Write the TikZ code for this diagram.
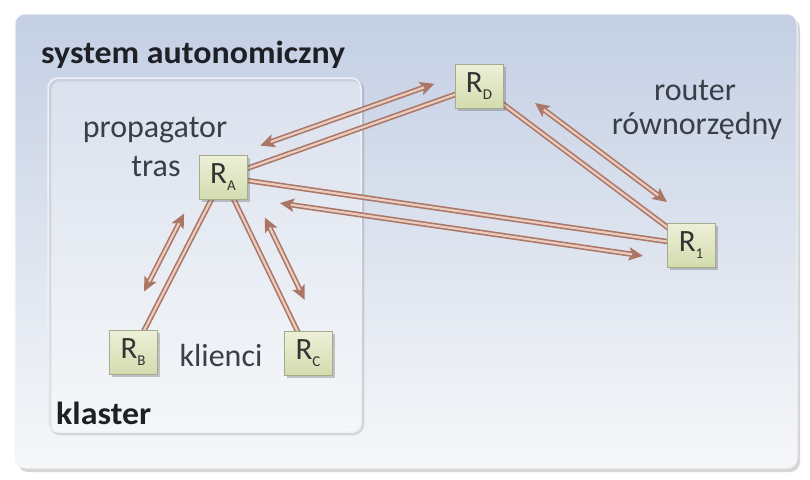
\documentclass[tikz,border=0pt]{standalone}
\usepackage{fontspec}
\setmainfont{Carlito}
\usetikzlibrary{arrows.meta,shadows}
\definecolor{arrdark}{HTML}{AC7666}
\definecolor{arrlight}{HTML}{EACDC1}
\definecolor{nodefill}{HTML}{D3DCAE}
\definecolor{nodetop}{HTML}{EDF0D8}
\definecolor{nodeline}{HTML}{A4AA8E}
\definecolor{bgtop}{HTML}{C4CFE4}
\definecolor{bgmid}{HTML}{DEE4EF}
\definecolor{bgbot}{HTML}{F6F7F9}
\definecolor{txt}{HTML}{3A3E48}
\definecolor{txtbold}{HTML}{1E2026}
\pgfdeclarelayer{back}
\pgfdeclarelayer{edges}
\pgfsetlayers{back,edges,main}
\tikzset{
  rbox/.style={draw=nodeline, line width=1pt, top color=nodetop, bottom color=nodefill,
    minimum width=48pt, minimum height=44pt, inner sep=0pt, text=black!80,
    font=\fontsize{31}{31}\selectfont,
    drop shadow={shadow xshift=2.5pt, shadow yshift=-2.5pt, opacity=0.35, fill=black!60}},
  lbl/.style={text=txt, font=\fontsize{32}{32}\selectfont, inner sep=0pt},
  blbl/.style={text=txtbold, font=\bfseries\fontsize{32}{32}\selectfont, inner sep=0pt,
    xscale=1.06, transform shape},
  darkline/.style={draw=arrdark, line width=5.4pt},
  lightline/.style={draw=arrlight, line width=2.2pt},
  tip/.tip={Stealth[length=14pt,width=13pt,inset=2.5pt]}
}
\newcommand\sub[1]{\raisebox{-0.5ex}{\fontsize{15}{15}\selectfont #1}}
\newcommand\biarr[5]{%
  \draw[darkline, tip-tip, transform canvas={shift={#3}}, shorten <=#4, shorten >=#5] (#1.center) -- (#2.center);
  \draw[lightline, transform canvas={shift={#3}}, shorten <={#4+11pt}, shorten >={#5+11pt}] (#1.center) -- (#2.center);}
\newcommand\link[2]{%
  \draw[darkline] (#1.center) -- (#2.center);
  \draw[lightline] (#1.center) -- (#2.center);}
\begin{document}
\begin{tikzpicture}[x=1pt,y=-1pt]
\useasboundingbox (0,0) rectangle (810,479);
% routers
\node[rbox] (RA) at (223,177) {R\sub{A}};
\node[rbox] (RD) at (479,86) {R\sub{D}};
\node[rbox] (R1) at (691,245) {R\sub{1}};
\node[rbox] (RB) at (133,352) {R\sub{B}};
\node[rbox] (RC) at (308,353) {R\sub{C}};
% labels
\node[blbl, anchor=base west] (sys) at (41,63) {system autonomiczny};
\node[lbl, anchor=base] (prop) at (155,137) {propagator};
\node[lbl, anchor=base] (tras) at (156,176) {tras};
\node[lbl, anchor=base] (rout) at (695,100) {router};
\node[lbl, anchor=base] (rown) at (697,134) {równorzędny};
\node[lbl, anchor=base] (kli) at (221,366) {klienci};
\node[blbl, anchor=base west] (kla) at (56,424) {klaster};
\begin{pgfonlayer}{back}
  \fill[white] (0,0) rectangle (810,479);
  \fill[black!16, rounded corners=10pt] (18,18) rectangle (800,472);
  \shade[shading=axis, top color=bgtop, middle color=bgmid, bottom color=bgbot,
    rounded corners=10pt, draw=white!80!bgtop, line width=1pt] (15,14) rectangle (797,468);
  \draw[rounded corners=10pt, draw=black, opacity=0.12, line width=2.5pt]
    (50,80) rectangle (363,434);
  \draw[rounded corners=10pt, draw=white!70!bgtop, line width=1.5pt, fill=white, fill opacity=0.3]
    (48,78) rectangle (361,432);
\end{pgfonlayer}
\begin{pgfonlayer}{edges}
  \link{RA}{RD}
  \link{RA}{RB}
  \link{RA}{RC}
  \link{RA}{R1}
  \link{RD}{R1}
  \biarr{RA}{RD}{(-6,-16)}{46pt}{41pt}
  \biarr{RA}{RB}{(-16,-8)}{50pt}{59pt}
  \biarr{RA}{RC}{(18,-9)}{55pt}{49pt}
  \biarr{RA}{R1}{(-2.5,17.5)}{60pt}{46pt}
  \biarr{RD}{R1}{(12,-16)}{55pt}{45pt}
\end{pgfonlayer}
\end{tikzpicture}
\end{document}
